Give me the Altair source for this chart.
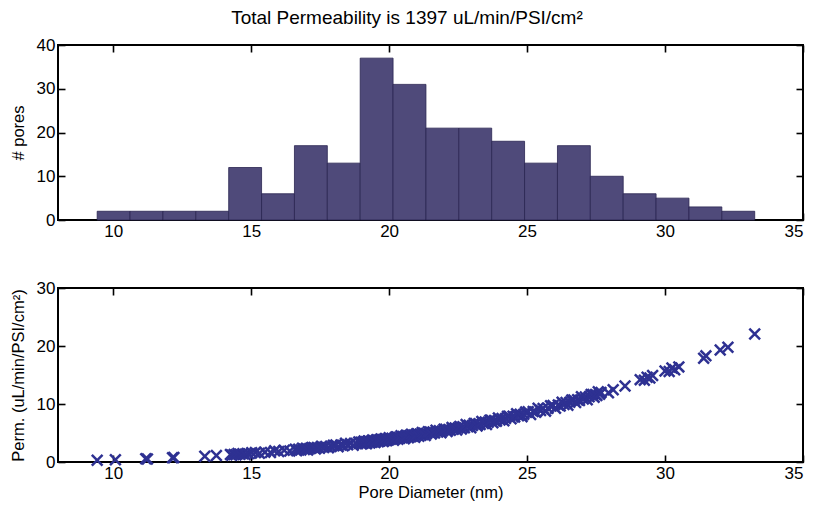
import altair as alt
import numpy as np
import pandas as pd

diameter = [
    9.42, 10.08,
    11.18, 11.24,
    12.15, 12.20,
    13.32, 13.74,
    14.25, 14.30, 14.38, 14.45, 14.52, 14.60, 14.70, 14.78, 14.90, 15.02, 15.15, 15.30,
    15.50, 15.70, 15.85, 16.00, 16.20, 16.40,
    16.60, 16.65, 16.72, 16.80, 16.86, 16.93, 17.00, 17.05, 17.12, 17.20, 17.27, 17.33, 17.40, 17.48, 17.55, 17.63, 17.70,
    17.80, 17.90, 17.98, 18.07, 18.15, 18.25, 18.33, 18.42, 18.50, 18.60, 18.70, 18.80, 18.90,
    18.97, 19.00, 19.03, 19.06, 19.09, 19.12, 19.15, 19.18, 19.21, 19.24, 19.27, 19.30,
    19.34, 19.37, 19.40, 19.43, 19.46, 19.49, 19.52, 19.55, 19.58, 19.61, 19.64, 19.67,
    19.70, 19.73, 19.76, 19.79, 19.82, 19.85, 19.88, 19.91, 19.94, 19.97, 20.00, 20.05, 20.10,
    20.16, 20.20, 20.24, 20.28, 20.32, 20.35, 20.39, 20.43, 20.47, 20.51, 20.55, 20.58, 20.62, 20.66, 20.70,
    20.74, 20.78, 20.81, 20.85, 20.89, 20.93, 20.97, 21.00, 21.04, 21.08, 21.12, 21.16, 21.20, 21.23, 21.27, 21.31,
    21.36, 21.42, 21.47, 21.53, 21.59, 21.65, 21.70, 21.76, 21.82, 21.88, 21.93, 21.99, 22.05, 22.10, 22.16,
    22.22, 22.28, 22.33, 22.39, 22.45, 22.50,
    22.56, 22.62, 22.67, 22.73, 22.79, 22.85, 22.90, 22.96, 23.02, 23.08, 23.13, 23.19, 23.25, 23.30, 23.36,
    23.42, 23.48, 23.53, 23.59, 23.65, 23.70,
    23.76, 23.82, 23.89, 23.96, 24.02, 24.09, 24.16, 24.22, 24.29, 24.35, 24.42, 24.49, 24.55, 24.62, 24.69,
    24.75, 24.82, 24.88,
    24.95, 25.04, 25.13, 25.22, 25.31, 25.40, 25.49, 25.58, 25.67, 25.76, 25.85, 25.94, 26.03,
    26.13, 26.20, 26.27, 26.34, 26.41, 26.48, 26.55, 26.62, 26.69, 26.76, 26.83, 26.90, 26.97, 27.04, 27.11,
    27.18, 27.25,
    27.32, 27.38, 27.43, 27.48, 27.53, 27.58, 27.63, 27.68, 27.95, 28.12,
    28.55, 29.10, 29.25, 29.35, 29.45, 29.55,
    30.00, 30.15, 30.25, 30.35, 30.50,
    31.40, 31.48, 32.00,
    32.28, 33.25,
]

# Permeability of each pore (uL/min/PSI/cm^2), same order
perm = [
    0.30, 0.38,
    0.55, 0.52,
    0.72, 0.76,
    0.98, 1.12,
    1.30, 1.18, 1.31, 1.26, 1.45, 1.32, 1.44, 1.28, 1.44, 1.60, 1.62, 1.50,
    1.70, 1.63, 1.92, 1.80, 2.02, 1.88,
    2.19, 1.96, 2.19, 2.07, 2.39, 2.17, 2.35, 2.07, 2.31, 2.50, 2.48, 2.26, 2.50, 2.39, 2.72, 2.51, 2.69,
    2.44, 2.69, 2.88, 2.93, 2.62, 2.93, 2.82, 3.22, 2.97, 3.17, 2.88, 3.18, 3.44,
    3.42, 3.09, 3.36, 3.23, 3.60, 3.32, 3.48, 3.15, 3.42, 3.64, 3.61, 3.28,
    3.55, 3.42, 3.79, 3.51, 3.68, 3.35, 3.62, 3.84, 3.81, 3.47, 3.74, 3.61,
    3.98, 3.70, 3.87, 3.54, 3.81, 4.03, 3.99, 3.66, 3.93, 3.80, 4.17, 3.91, 4.09,
    3.73, 4.06, 4.33, 4.30, 3.91, 4.23, 4.08, 4.53, 4.19, 4.40, 4.01, 4.33, 4.60, 4.57, 4.18,
    4.51, 4.35, 4.80, 4.46, 4.67, 4.28, 4.61, 4.87, 4.84, 4.45, 4.78, 4.63, 5.08, 4.74, 4.95, 4.56,
    4.91, 5.20, 5.18, 4.81, 5.16, 5.02, 5.48, 5.17, 5.40, 5.03, 5.36, 5.65, 5.64, 5.27, 5.62,
    5.49, 5.96, 5.65, 5.88, 5.51, 5.86,
    6.12, 5.68, 6.07, 5.92, 6.46, 6.09, 6.34, 5.90, 6.31, 6.65, 6.63, 6.20, 6.61, 6.45, 7.00,
    6.64, 6.91, 6.46, 6.87, 7.21, 7.19,
    6.76, 7.17, 7.03, 7.59, 7.23, 7.52, 7.10, 7.52, 7.88, 7.87, 7.46, 7.88, 7.74, 8.31, 7.96,
    8.24, 7.82, 8.24,
    8.63, 8.66, 8.20, 8.71, 8.58, 9.25, 8.87, 9.22, 8.77, 9.27, 9.70, 9.73, 9.28,
    9.81, 9.66, 10.32, 9.93, 10.26, 9.79, 10.29, 10.70, 10.71, 10.24, 10.74, 10.59, 11.24, 10.86, 11.20,
    10.73, 11.23,
    11.65, 11.66, 11.17, 11.64, 11.47, 12.10, 11.69, 12.00, 11.92, 12.46,
    13.10, 14.20, 14.10, 14.60, 14.50, 14.90,
    15.70, 15.60, 16.20, 15.90, 16.40,
    17.90, 18.30, 19.30,
    19.80, 22.06,
]

x_ticks = [10, 15, 20, 25, 30, 35]
hist_y_ticks = [0, 10, 20, 30, 40]
perm_y_ticks = [0, 10, 20, 30]
title_text = "Total Permeability is 1397 uL/min/PSI/cm²"

counts, edges = np.histogram(diameter, bins=20, range=(min(diameter), max(diameter)))
hist_df = pd.DataFrame({"start": edges[:-1], "end": edges[1:], "count": counts,
                        "base": np.zeros(len(counts))})
pts_df = pd.DataFrame({"d": diameter, "p": perm})

FONT = "Liberation Sans"
TICK = 7
W = 745

x_scale = alt.Scale(domain=[8, 35], nice=False, zero=False)
yh_scale = alt.Scale(domain=[0, 40], nice=False)
yp_scale = alt.Scale(domain=[0, 30], nice=False)


def axis(orient, values, labels=True, title="", title_pad=10):
    kw = dict(orient=orient, values=values, offset=-TICK, tickSize=TICK,
              labels=labels, title=title, grid=False, domain=False,
              tickColor="black", tickWidth=1.6, labelPadding=3,
              labelFont=FONT, titleFont=FONT, labelFontSize=17, titleFontSize=16.5,
              titleFontWeight="normal", labelColor="black", titleColor="black",
              titlePadding=title_pad)
    return alt.Axis(**kw)


# --- top panel: histogram ---
bars = alt.Chart(hist_df).mark_bar(
    color="#4F4A7A", stroke="#2A2550", strokeWidth=0.8, opacity=1
).encode(
    x=alt.X("start:Q", scale=x_scale, axis=axis("bottom", x_ticks)),
    x2="end:Q",
    y=alt.Y("count:Q", scale=yh_scale, axis=axis("left", hist_y_ticks, title="# pores")),
    y2="base:Q",
)
bars_mirror = alt.Chart(hist_df).mark_bar(opacity=0).encode(
    x=alt.X("start:Q", scale=x_scale, axis=axis("top", x_ticks, labels=False)),
    x2="end:Q",
    y=alt.Y("count:Q", scale=yh_scale, axis=axis("right", hist_y_ticks, labels=False)),
    y2="base:Q",
)
top = alt.layer(bars, bars_mirror).resolve_axis(x="independent", y="independent").properties(
    width=W, height=175
)

# --- bottom panel: scatter ---
xshape = "M-1,-1L1,1M-1,1L1,-1"
pts = alt.Chart(pts_df).mark_point(
    shape=xshape, filled=False, size=115, strokeWidth=2.5, color="#2E3192", opacity=1
).encode(
    x=alt.X("d:Q", scale=x_scale,
            axis=axis("bottom", x_ticks, title="Pore Diameter (nm)", title_pad=3)),
    y=alt.Y("p:Q", scale=yp_scale,
            axis=axis("left", perm_y_ticks, title="Perm. (uL/min/PSI/cm²)")),
)
pts_mirror = alt.Chart(pts_df).mark_point(opacity=0).encode(
    x=alt.X("d:Q", scale=x_scale, axis=axis("top", x_ticks, labels=False)),
    y=alt.Y("p:Q", scale=yp_scale, axis=axis("right", perm_y_ticks, labels=False)),
)
bottom = alt.layer(pts, pts_mirror).resolve_axis(x="independent", y="independent").properties(
    width=W, height=174
)

chart = alt.vconcat(top, bottom, spacing=38).properties(
    title=alt.TitleParams(title_text, font=FONT, fontSize=19, fontWeight="normal",
                          color="black", anchor="middle", offset=7),
    padding={"left": 9, "top": 9, "right": 4, "bottom": 0},
    background="white",
).configure_view(
    stroke="black", strokeWidth=2
)

chart.save("out.html", embed_options={"renderer": "svg", "actions": False})
